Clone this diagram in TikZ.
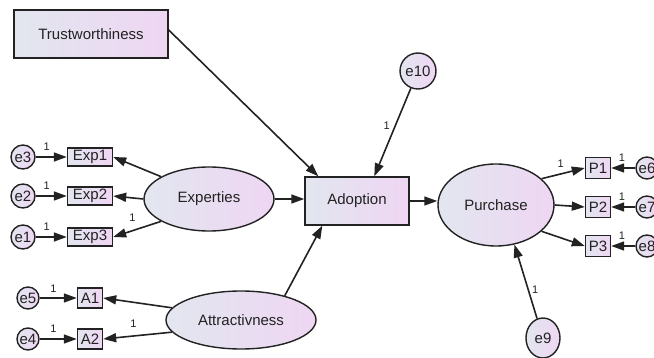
\documentclass[tikz,border=0pt]{standalone}
\usepackage{fontspec}
\setmainfont{Liberation Sans}
\usetikzlibrary{arrows.meta,shapes.geometric,calc}
\definecolor{lc}{HTML}{E2E6EF}
\definecolor{rc}{HTML}{EFD6F3}
\definecolor{ln}{HTML}{222222}
\begin{document}
\begin{tikzpicture}[x=1pt,y=-1pt,
 every node/.style={font=\fontsize{15}{18}\selectfont, text=ln},
 fillgrad/.style={draw=ln, line width=1.4pt, left color=lc, right color=rc},
 bigbox/.style={fillgrad, rectangle, inner sep=0pt},
 obs/.style={fillgrad, rectangle, inner sep=0pt},
 lat/.style={fillgrad, ellipse, inner sep=0pt},
 err/.style={fillgrad, circle, inner sep=0pt},
 arr/.style={draw=ln, line width=1.6pt, -{Triangle[length=13pt,width=9pt]}},
 one/.style={font=\fontsize{11}{12}\selectfont, inner sep=0pt}
]
\useasboundingbox (0,0) rectangle (654,358);

% main nodes
\node[bigbox, minimum width=154pt, minimum height=48pt] (trust) at (91,34) {Trustworthiness};
\node[bigbox, minimum width=104pt, minimum height=48pt] (adopt) at (357,201) {Adoption};
\node[err, minimum size=36pt] (e10) at (418,71) {e10};
\node[lat, minimum width=130pt, minimum height=64pt] (expt) at (209,199) {Experties};
\node[lat, minimum width=150pt, minimum height=58pt] (attr) at (241,320) {Attractivness};
\node[lat, minimum width=116pt, minimum height=82pt] (pur) at (496,205) {Purchase};
\node[lat, minimum width=34pt, minimum height=40pt] (e9) at (543,338) {e9};

% observed
\node[obs, minimum width=45pt, minimum height=18pt] (x1) at (90,157) {Exp1};
\node[obs, minimum width=45pt, minimum height=18pt] (x2) at (90,196) {Exp2};
\node[obs, minimum width=45pt, minimum height=18pt] (x3) at (90,237) {Exp3};
\node[obs, minimum width=25pt, minimum height=20pt] (a1) at (90,298) {A1};
\node[obs, minimum width=25pt, minimum height=20pt] (a2) at (90,339) {A2};
\node[obs, minimum width=25pt, minimum height=21pt] (p1) at (598,168) {P1};
\node[obs, minimum width=25pt, minimum height=21pt] (p2) at (598,207) {P2};
\node[obs, minimum width=25pt, minimum height=21pt] (p3) at (598,246) {P3};

% errors
\node[err, minimum size=24pt] (e3) at (23,157) {e3};
\node[err, minimum size=24pt] (e2) at (23,196) {e2};
\node[err, minimum size=24pt] (e1) at (23,237) {e1};
\node[err, minimum size=22pt] (e5) at (28,298) {e5};
\node[err, minimum size=22pt] (e4) at (28,339) {e4};
\node[err, minimum size=22pt] (e6) at (647,168) {e6};
\node[err, minimum size=22pt] (e7) at (647,207) {e7};
\node[err, minimum size=22pt] (e8) at (647,246) {e8};

% structural arrows
\draw[arr] ($(trust.east)+(0,-4)$) -- ($(adopt.north west)+(14,0)$);
\draw[arr] (e10) -- ($(adopt.north west)+(70,0)$) node[one, pos=0.42, left=5pt] {1};
\draw[arr] (expt.east) -- (expt.east -| adopt.west);
\draw[arr] (attr.29) -- ($(adopt.south west)+(18,0)$);
\draw[arr] (adopt.east) -- (adopt.east -| pur.west);
\draw[arr] (e9) -- (pur.-65) node[one, pos=0.39, right=3pt] {1};

% measurement arrows
\draw[arr] (expt.155) -- (x1.east);
\draw[arr] (expt.west) -- (x2.east);
\draw[arr] (expt.-155) -- (x3.east) node[one, pos=0.6, above=8pt] {1};
\draw[arr] (attr.170) -- (a1.east);
\draw[arr] (attr.190) -- (a2.east) node[one, pos=0.56, above=8pt] {1};
\draw[arr] (pur.30) -- (p1.west) node[one, pos=0.44, above=6pt] {1};
\draw[arr] (pur.east) -- (p2.west);
\draw[arr] (pur.-30) -- (p3.west);

% error arrows
\draw[arr] (e3) -- (x1) node[one, pos=0.35, above=6pt] {1};
\draw[arr] (e2) -- (x2) node[one, pos=0.35, above=6pt] {1};
\draw[arr] (e1) -- (x3) node[one, pos=0.35, above=6pt] {1};
\draw[arr] (e5) -- (a1) node[one, pos=0.37, above=5pt] {1};
\draw[arr] (e4) -- (a2) node[one, pos=0.37, above=6pt] {1};
\draw[arr] (e6) -- (p1) node[one, pos=0.55, above=6pt] {1};
\draw[arr] (e7) -- (p2) node[one, pos=0.55, above=6pt] {1};
\draw[arr] (e8) -- (p3) node[one, pos=0.55, above=6pt] {1};
\end{tikzpicture}
\end{document}
